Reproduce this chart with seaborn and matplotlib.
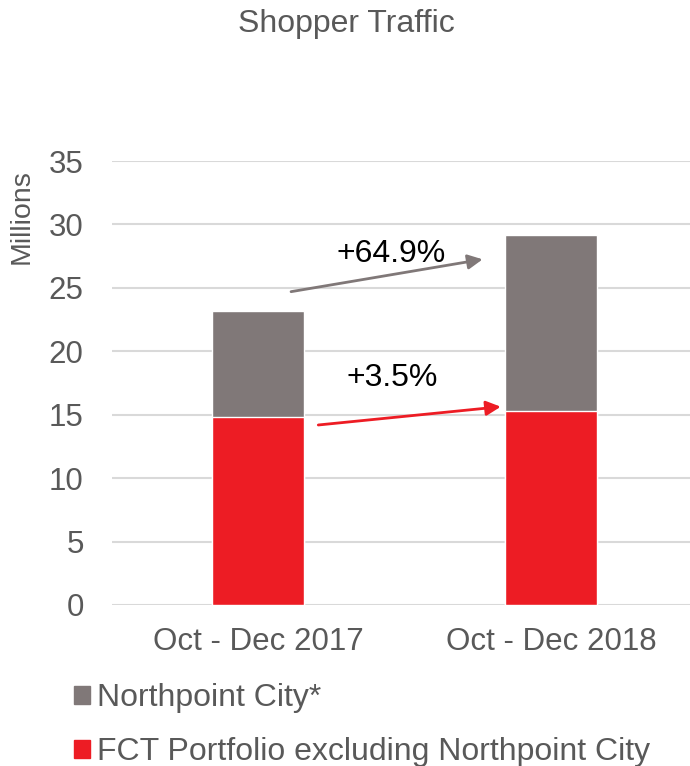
import matplotlib
matplotlib.use('Agg')
import matplotlib.pyplot as plt
from matplotlib.patches import Patch
import seaborn as sns
import pandas as pd

# Data (millions of shoppers)
periods = ['Oct - Dec 2017', 'Oct - Dec 2018']
fct_excl_npc = [14.8, 15.3]
northpoint = [8.4, 13.85]
growth_labels = ['+64.9%', '+3.5%']

GRAY = '#807878'
RED = '#ED1C24'
TEXT = '#595959'

sns.set_style('white')
plt.rcParams['font.family'] = ['Liberation Sans', 'DejaVu Sans']

df = pd.DataFrame({'period': periods, 'fct': fct_excl_npc, 'npc': northpoint})
df['total'] = df['fct'] + df['npc']

fig = plt.figure(figsize=(6.9, 7.66), dpi=100)
# plot area runs slightly past the right edge, like the original
ax = fig.add_axes([0.1616, 0.2102, 0.849, 0.5796])

# stacked bars: total in gray, FCT part drawn over it in red
sns.barplot(data=df, x='period', y='total', color=GRAY, width=0.314,
            saturation=1, ax=ax, zorder=3)
sns.barplot(data=df, x='period', y='fct', color=RED, width=0.314,
            saturation=1, ax=ax, zorder=3)

ax.set_xlim(-0.5, 1.5)
ax.set_ylim(0, 35)
ax.set_yticks(range(0, 36, 5))
ax.grid(axis='y', color='#d9d9d9', linewidth=1.5, zorder=0)
ax.set_axisbelow(True)
sns.despine(ax=ax, left=True, bottom=True)
ax.tick_params(axis='y', length=0, pad=20, labelsize=22.5, labelcolor=TEXT)
ax.tick_params(axis='x', length=0, pad=16, labelsize=22.5, labelcolor=TEXT)
ax.set_xlabel('')
ax.set_ylabel('Millions', fontsize=20.5, color=TEXT)
ax.yaxis.set_label_coords(-0.131, 0.876)

# growth arrows
ax.annotate('', xy=(0.767, 27.25), xytext=(0.113, 24.7),
            arrowprops=dict(arrowstyle='-|>', color=GRAY, lw=2,
                            mutation_scale=22, shrinkA=0, shrinkB=0), zorder=5)
ax.annotate('', xy=(0.829, 15.63), xytext=(0.206, 14.19),
            arrowprops=dict(arrowstyle='-|>', color=RED, lw=2,
                            mutation_scale=22, shrinkA=0, shrinkB=0), zorder=5)
ax.text(0.454, 27.67, growth_labels[0], fontsize=23, color='black',
        ha='center', va='center', zorder=6)
ax.text(0.459, 17.9, growth_labels[1], fontsize=23, color='black',
        ha='center', va='center', zorder=6)

fig.text(0.502, 0.969, 'Shopper Traffic', fontsize=23, color=TEXT,
         ha='center', va='center')

handles = [Patch(color=GRAY, label='Northpoint City*'),
           Patch(color=RED, label='FCT Portfolio excluding Northpoint City')]
leg = fig.legend(handles=handles, loc='upper left',
                 bbox_to_anchor=(0.107, 0.108), frameon=False,
                 fontsize=23, handlelength=0.5, handleheight=0.5,
                 handletextpad=0.22, labelspacing=0.75, borderaxespad=0,
                 borderpad=0)
for t in leg.get_texts():
    t.set_color(TEXT)

fig.savefig('out.png', dpi=100)
